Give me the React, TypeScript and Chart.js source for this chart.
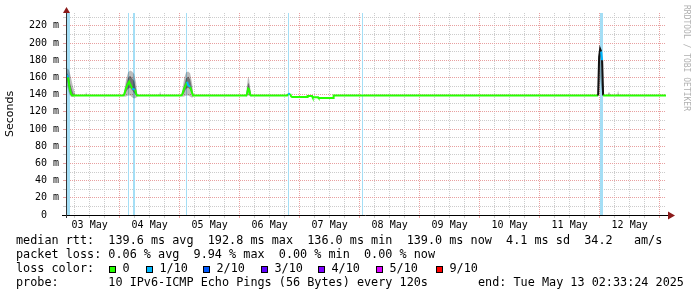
import { useEffect, useRef } from 'react';
import { Chart, registerables } from 'chart.js';

Chart.register(...registerables);

// time axis: hours since 03 May 00:00
const X_MIN = 2.55;
const X_MAX = 242.55;
const Y_MAX = 235; // ms

const dayLabels = ['03 May', '04 May', '05 May', '06 May', '07 May', '08 May', '09 May', '10 May', '11 May', '12 May'];

// median rtt (ms) and loss level index per sample
const medianT = [2.55, 3.0, 3.4, 3.8, 4.2, 4.6, 5.0,
  25.4, 25.8, 26.6, 27.4, 27.8, 28.2, 28.6, 29.0, 29.8, 30.2, 30.6, 31.0,
  48.6, 49.0, 49.8, 50.6, 51.0, 51.4, 51.8, 52.2, 53.0, 53.4,
  74.6, 75.0, 75.4, 75.8, 76.2, 76.6,
  91.0, 91.4, 92.2, 92.6, 93.0, 99.0, 99.2, 101.0, 101.2, 103.4, 103.6, 109.4, 109.6,
  215.4, 215.8, 216.2, 216.6, 217.0, 217.4,
  242.55];
const medianV = [163, 162, 160, 151, 145, 141, 139,
  139, 140, 148, 153, 155, 152, 150, 147, 146, 146, 141, 139,
  139, 140, 147, 152, 155, 151, 150, 149, 142, 139,
  139, 141, 147, 146, 140, 139,
  139, 140.5, 141, 138, 137.2, 137.2, 138.3, 138.3, 137, 137, 136.2, 136.2, 139,
  139, 184, 193, 190, 180, 139,
  139];
const medianLoss = [1, 1, 0, 0, 0, 0, 0,
  0, 0, 0, 0, 0, 0, 0, 1, 1, 0, 0, 0,
  0, 0, 0, 0, 1, 1, 1, 0, 0, 0,
  0, 0, 0, 0, 0, 0,
  0, 1, 0, 0, 0, 0, 0, 0, 0, 0, 0, 0, 0,
  0, 0, 0, 1, 1, 0,
  0];

// smoke (distribution of the 10 pings), ms
const smokeT = [2.55, 3.0, 3.4, 3.8, 4.2, 4.6, 5.0, 5.4, 5.8, 6.2, 6.6,
  10.2, 10.6, 11.0,
  25.4, 25.8, 26.6, 27.4, 28.2, 29.0, 29.8, 30.6, 31.0, 31.4,
  39.8, 40.2, 40.6,
  48.6, 49.0, 49.8, 50.6, 51.4, 52.2, 53.0, 53.4, 53.8,
  74.2, 74.6, 75.0, 75.4, 75.8, 76.2, 76.6, 77.0,
  215.0, 215.4, 215.8, 216.2, 216.6, 217.0, 217.4, 217.8,
  219.0, 219.4, 219.8, 220.2, 220.6,
  223.0, 223.4, 223.8,
  242.55];
const smokeMax = [170, 170, 170, 168, 164, 159, 154, 149, 145, 141, 139,
  139, 143, 139,
  139, 144, 158, 166, 168, 167, 164, 154, 142, 139,
  139, 144, 139,
  139, 143, 159, 166, 167, 165, 153, 142, 139,
  139, 141, 152, 161, 158, 148, 141, 139,
  139, 139, 190, 195, 194, 188, 141, 139,
  139, 142, 143, 141, 139,
  139, 145, 139,
  139];
const smokeQ3 = [165, 165, 163, 158, 153, 149, 145, 142, 140, 139, 139,
  139, 139, 139,
  139, 141, 152, 160, 162, 159, 156, 146, 140, 139,
  139, 139, 139,
  139, 141, 151, 159, 161, 158, 147, 140, 139,
  139, 140, 147, 154, 152, 145, 140, 139,
  139, 139, 186, 193, 191, 183, 140, 139,
  139, 139, 139, 139, 139,
  139, 139, 139,
  139];
const smokeQ1 = [157, 157, 152, 146, 142, 140, 139, 138.5, 138.6, 138.8, 139,
  139, 139, 139,
  139, 139, 143, 147, 148, 145, 142, 139, 139, 139,
  139, 139, 139,
  139, 139, 142, 147, 148, 146, 140, 139, 139,
  139, 139, 141, 144, 143, 140, 139, 139,
  139, 139, 170, 185, 180, 170, 139, 139,
  139, 139, 139, 139, 139,
  139, 139, 139,
  139];
const smokeMin = [150, 150, 146, 141, 138.5, 137.5, 137.5, 137.5, 138, 138.5, 139,
  139, 139, 139,
  139, 137.5, 138, 139, 139, 137, 135.5, 136.5, 137.5, 139,
  139, 139, 139,
  139, 137.5, 138, 139, 139, 138, 136.5, 137.5, 139,
  139, 138, 138, 139, 139, 138, 138, 139,
  139, 139, 140, 160, 150, 140, 139, 139,
  139, 139, 139, 139, 139,
  139, 139, 139,
  139];

// periods with packet loss (start, end hours)
const lossStart = [2.95, 27.35, 29.35, 50.55, 91.35, 120.95, 216.15];
const lossEnd = [4.15, 27.75, 30.15, 50.95, 91.75, 121.35, 217.35];

const lossColors = ['#26ff00', '#00b8ff', '#0059ff', '#5e00ff', '#7e00ff', '#dd00ff', '#ff0000'];
const lossLabels = ['0', '1/10', '2/10', '3/10', '4/10', '5/10', '9/10'];

const medianLine = 'median rtt:  139.6 ms avg  192.8 ms max  136.0 ms min  139.0 ms now  4.1 ms sd  34.2   am/s';
const lossLine = 'packet loss: 0.06 % avg  9.94 % max  0.00 % min  0.00 % now';
const probeLine = 'probe:       10 IPv6-ICMP Echo Pings (56 Bytes) every 120s';
const endLine = 'end: Tue May 13 02:33:24 2025';
const watermark = 'RRDTOOL / TOBI OETIKER';

const MONO = '"DejaVu Sans Mono", monospace';

const overlayPlugin = {
  id: 'rrdOverlay',
  afterDatasetsDraw(chart: any) {
    const ctx = chart.ctx as CanvasRenderingContext2D;
    const { left, right, top, bottom } = chart.chartArea;
    ctx.save();
    ctx.strokeStyle = '#000';
    ctx.lineWidth = 1;
    ctx.beginPath();
    ctx.moveTo(left - 4, bottom + 0.5);
    ctx.lineTo(right + 3, bottom + 0.5);
    ctx.stroke();
    ctx.strokeStyle = '#333';
    ctx.beginPath();
    ctx.moveTo(left + 0.5, top - 1);
    ctx.lineTo(left + 0.5, bottom + 3);
    ctx.stroke();
    ctx.fillStyle = '#8b1a1a';
    ctx.beginPath();
    ctx.moveTo(left - 3, top);
    ctx.lineTo(left + 4, top);
    ctx.lineTo(left + 0.5, top - 6);
    ctx.closePath();
    ctx.fill();
    ctx.beginPath();
    ctx.moveTo(right + 2, bottom - 3.5);
    ctx.lineTo(right + 2, bottom + 4.5);
    ctx.lineTo(right + 9, bottom + 0.5);
    ctx.closePath();
    ctx.fill();
    ctx.restore();
  },
  afterDraw(chart: any) {
    const ctx = chart.ctx as CanvasRenderingContext2D;
    ctx.save();
    ctx.fillStyle = '#000';
    ctx.textBaseline = 'middle';
    ctx.textAlign = 'left';
    ctx.font = '11.8px ' + MONO;
    ctx.fillText(medianLine, 16, 241);
    ctx.fillText(lossLine, 16, 255);
    ctx.fillText('loss color:', 16, 269);
    ctx.fillText(probeLine, 16, 283);
    ctx.fillText(endLine, 478, 283);
    const sq = [109, 146, 203, 261, 318, 376, 436];
    lossColors.forEach((c, i) => {
      ctx.fillStyle = c;
      ctx.fillRect(sq[i], 266, 7, 7);
      ctx.strokeStyle = '#000';
      ctx.lineWidth = 1;
      ctx.strokeRect(sq[i] + 0.5, 266.5, 6, 6);
      ctx.fillStyle = '#000';
      ctx.fillText(lossLabels[i], sq[i] + 13.5, 269);
    });
    // watermark
    ctx.translate(686, 5);
    ctx.rotate(Math.PI / 2);
    ctx.fillStyle = '#b0b0b0';
    ctx.font = '8px ' + MONO;
    ctx.textBaseline = 'middle';
    ctx.fillText(watermark, 0, 0);
    ctx.restore();
  },
};

export default function App() {
  const ref = useRef<HTMLCanvasElement | null>(null);
  useEffect(() => {
    if (!ref.current) return;
    Chart.defaults.font.family = MONO;
    Chart.defaults.color = '#000';

    const lossDatasets = lossStart.map((s, i) => ({
      type: 'line' as const,
      data: [{ x: s, y: Y_MAX }, { x: lossEnd[i], y: Y_MAX }],
      fill: 'origin',
      backgroundColor: '#a4def5',
      borderWidth: 0,
      pointRadius: 0,
      order: 5,
    }));

    const pts = (vals: number[]) => smokeT.map((t, i) => ({ x: t, y: vals[i] }));

    const chart = new Chart(ref.current, {
      type: 'line',
      data: {
        datasets: [
          { data: pts(smokeMax), fill: '+1', backgroundColor: 'rgba(0,0,0,0.26)', borderWidth: 0, pointRadius: 0, order: 3 },
          { data: pts(smokeMin), fill: false, borderWidth: 0, pointRadius: 0, order: 3 },
          { data: pts(smokeQ3), fill: '+1', backgroundColor: 'rgba(0,0,0,0.4)', borderWidth: 0, pointRadius: 0, order: 2 },
          { data: pts(smokeQ1), fill: false, borderWidth: 0, pointRadius: 0, order: 2 },
          {
            data: medianT.map((t, i) => ({ x: t, y: medianV[i] })),
            fill: false,
            borderColor: lossColors[0],
            borderWidth: 2,
            pointRadius: 0,
            order: 0,
            segment: {
              borderColor: (c: any) => {
                const y0 = c.p0.parsed.y;
                const y1 = c.p1.parsed.y;
                if (Math.abs(y1 - y0) > 25) return '#111';
                if (medianLoss[c.p0DataIndex]) return lossColors[medianLoss[c.p0DataIndex]];
                if (Math.max(y0, y1) > 175) return '#111';
                return lossColors[0];
              },
            },
          },
          ...lossDatasets,
        ] as any,
      },
      options: {
        responsive: false,
        animation: false,
        layout: { padding: { top: 13, right: 31, left: 0, bottom: 0 } },
        plugins: { legend: { display: false }, tooltip: { enabled: false } },
        elements: { line: { tension: 0 } },
        scales: {
          x: {
            type: 'linear',
            min: X_MIN,
            max: X_MAX,
            afterFit: (s: any) => { s.height = 82; },
            afterBuildTicks: (s: any) => {
              const t: any[] = [];
              for (let v = 6; v < X_MAX; v += 6) t.push({ value: v });
              s.ticks = t;
            },
            ticks: {
              autoSkip: false,
              maxRotation: 0,
              minRotation: 0,
              padding: 1,
              font: { size: 10, family: MONO },
              color: '#000',
              callback: (v: any) => {
                const n = Number(v);
                return n % 24 === 12 ? dayLabels[(n - 12) / 24] : '';
              },
            },
            grid: {
              color: (c: any) => (c.tick && c.tick.value % 24 === 0 ? '#e8a0a0' : '#cccccc'),
              tickLength: 3,
              drawTicks: true,
            },
            border: { display: false, dash: [1, 1] },
          },
          y: {
            type: 'linear',
            min: 0,
            max: Y_MAX,
            afterFit: (s: any) => { s.width = 66; },
            afterBuildTicks: (s: any) => {
              const t: any[] = [];
              for (let v = 0; v < Y_MAX; v += 10) t.push({ value: v });
              s.ticks = t;
            },
            ticks: {
              autoSkip: false,
              padding: 4,
              font: { size: 10, family: MONO },
              color: '#000',
              callback: (v: any) => {
                const n = Number(v);
                if (n % 20 !== 0) return '';
                return n === 0 ? '0  ' : `${n} m`;
              },
            },
            grid: {
              color: (c: any) => (c.tick && c.tick.value % 20 === 0 ? '#e8a0a0' : '#cccccc'),
              tickLength: 3,
              drawTicks: true,
            },
            border: { display: false, dash: [1, 1] },
            title: {
              display: true,
              text: 'Seconds',
              font: { size: 11, family: '"DejaVu Sans", sans-serif' },
              color: '#000',
              padding: { top: 4, bottom: 0 },
            },
          },
        },
      } as any,
      plugins: [overlayPlugin],
    });
    return () => chart.destroy();
  }, []);

  return (
    <div style={{ position: 'absolute', left: 0, top: 0, width: 697, height: 297, background: '#fff' }}>
      <canvas ref={ref} width={697} height={297} style={{ display: 'block' }} />
    </div>
  );
}
